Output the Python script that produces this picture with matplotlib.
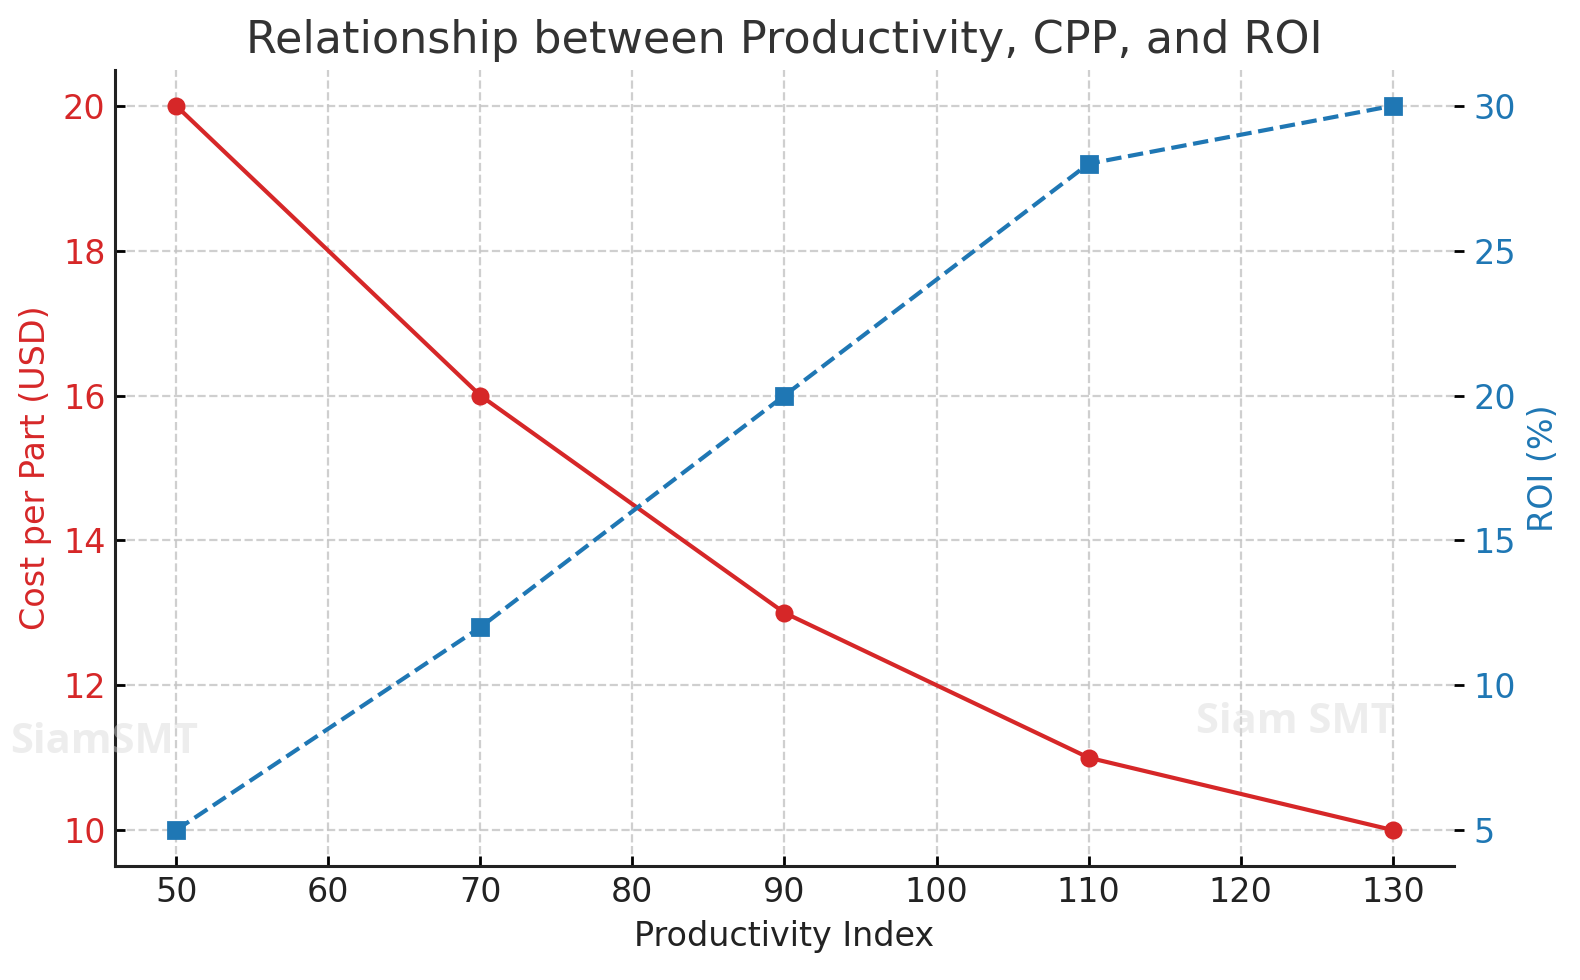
import matplotlib
matplotlib.use('Agg')
import matplotlib.pyplot as plt

# Data
productivity = [50, 70, 90, 110, 130]
cost_per_part = [20, 16, 13, 11, 10]
roi_pct = [5, 12, 20, 28, 30]

RED = '#d62728'
BLUE = '#1f77b4'

fig, ax1 = plt.subplots(figsize=(7.9, 4.9), dpi=200)
fig.subplots_adjust(left=0.073, right=0.92, bottom=0.116, top=0.929)

ax1.plot(productivity, cost_per_part, 'o-', color=RED, lw=1.5, ms=5.5)
ax1.set_xlabel('Productivity Index', fontsize=12, color='#222222')
ax1.set_ylabel('Cost per Part (USD)', fontsize=12, color=RED)
ax1.tick_params(axis='y', labelcolor=RED, labelsize=12, direction='in', width=1.0)
ax1.tick_params(axis='x', labelsize=12, labelcolor='#222222', direction='in', width=1.0)
ax1.grid(True, linestyle='--', color='#c4c4c4', lw=0.8, alpha=0.8)
ax1.spines['top'].set_visible(False)
ax1.spines['right'].set_visible(False)
ax1.spines['left'].set_linewidth(1.1)
ax1.spines['bottom'].set_linewidth(1.1)
ax1.spines['left'].set_color('#222222')
ax1.spines['bottom'].set_color('#222222')

ax2 = ax1.twinx()
ax2.plot(productivity, roi_pct, 's--', color=BLUE, lw=1.5, ms=5.5)
ax2.set_ylabel('ROI (%)', fontsize=12, color=BLUE)
ax2.tick_params(axis='y', labelcolor=BLUE, labelsize=12, width=1.0)
for s in ax2.spines.values():
    s.set_visible(False)

ax1.set_title('Relationship between Productivity, CPP, and ROI',
              fontsize=16, color='#333333')

# watermarks
fig.text(0.066, 0.242, 'SiamSMT', fontsize=15, fontweight='bold',
         color='#d8d8d8', alpha=0.45, ha='center', va='center',
         family='Open Sans')
fig.text(0.82, 0.263, 'Siam SMT', fontsize=15, fontweight='bold',
         color='#d8d8d8', alpha=0.45, ha='center', va='center',
         family='Open Sans')

plt.savefig('out.png', dpi=200)
plt.close()
